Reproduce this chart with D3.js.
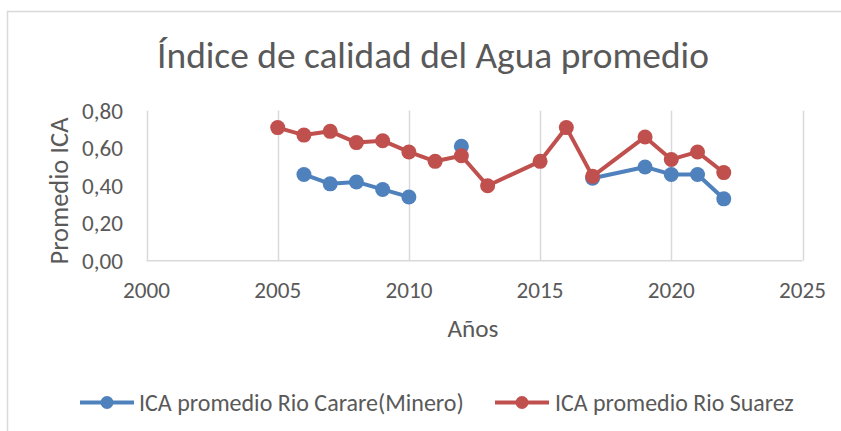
<!DOCTYPE html>
<html>
<head>
<meta charset="utf-8">
<script src="https://cdn.jsdelivr.net/npm/d3@7"></script>
<style>
  html, body { margin: 0; padding: 0; background: #fff; }
  svg { display: block; font-family: Carlito, Calibri, "Open Sans", sans-serif; }
</style>
</head>
<body>
<svg id="chart" width="841" height="431"></svg>
<script>
// ---- data ----
const years = [2005, 2006, 2007, 2008, 2009, 2010, 2011, 2012, 2013, 2015, 2016, 2017, 2019, 2020, 2021, 2022];
const carare = [null, 0.46, 0.41, 0.42, 0.38, 0.34, null, 0.61, null, null, null, 0.44, 0.50, 0.46, 0.46, 0.33];
const suarez = [0.71, 0.67, 0.69, 0.63, 0.64, 0.58, 0.53, 0.56, 0.40, 0.53, 0.71, 0.45, 0.66, 0.54, 0.58, 0.47];
const xTicks = [2000, 2005, 2010, 2015, 2020, 2025];
const yTicks = [0, 0.2, 0.4, 0.6, 0.8];
const seriesNames = ["ICA promedio Rio Carare(Minero)", "ICA promedio Rio Suarez"];
const titleText = "Índice de calidad del Agua promedio";
const xTitle = "Años";
const yTitle = "Promedio ICA";

// ---- setup ----
const svg = d3.select("#chart");
const colors = ["#4f81bd", "#c0504d"];
const grid = "#d9d9d9";
const textColor = "#595959";

const x = d3.scaleLinear().domain([2000, 2025]).range([146.5, 802.5]);
const y = d3.scaleLinear().domain([0, 0.8]).range([260.7, 110.7]);
const locale = d3.formatLocale({decimal: ",", thousands: ".", grouping: [3], currency: ["", ""]});
const fmt = locale.format(".2f");

function fit(sel, target) {
  const node = sel.node();
  const fs = parseFloat(sel.attr("font-size"));
  const w = node.getComputedTextLength();
  if (w > 0) sel.attr("font-size", fs * target / w);
}

// chart border (cropped)
svg.append("rect").attr("x", 7.5).attr("y", 11.5).attr("width", 1000).attr("height", 1000)
  .attr("fill", "none").attr("stroke", grid).attr("stroke-width", 1.5);

// vertical gridlines
const gx = svg.append("g");
gx.selectAll("line").data(xTicks).join("line")
  .attr("x1", d => Math.round(x(d)) + 0.5).attr("x2", d => Math.round(x(d)) + 0.5)
  .attr("y1", y(0.8)).attr("y2", y(0))
  .attr("stroke", grid).attr("stroke-width", 1.5);
// baseline
svg.append("line").attr("x1", x(2000)).attr("x2", x(2025))
  .attr("y1", y(0)).attr("y2", y(0)).attr("stroke", grid).attr("stroke-width", 1.5);

// x tick labels
svg.append("g").selectAll("text").data(xTicks).join("text")
  .attr("x", d => x(d)).attr("y", 298)
  .attr("text-anchor", "middle").attr("fill", textColor).attr("font-size", 20)
  .text(d => d)
  .each(function() { fit(d3.select(this), 47); });

// y tick labels
svg.append("g").selectAll("text").data(yTicks).join("text")
  .attr("x", 123).attr("y", d => y(d)).attr("dy", "0.35em")
  .attr("text-anchor", "end").attr("fill", textColor).attr("font-size", 20)
  .text(d => fmt(d))
  .each(function() { fit(d3.select(this), 41); });

// title
const t = svg.append("text").attr("x", 433).attr("y", 68)
  .attr("text-anchor", "middle").attr("fill", textColor).attr("font-size", 30)
  .text(titleText);
fit(t, 552);

// axis titles
const xt = svg.append("text").attr("x", 473).attr("y", 337)
  .attr("text-anchor", "middle").attr("fill", textColor).attr("font-size", 20).text(xTitle);
fit(xt, 51);
const yt = svg.append("text").attr("transform", "translate(68,191) rotate(-90)")
  .attr("text-anchor", "middle").attr("fill", textColor).attr("font-size", 20).text(yTitle);
fit(yt, 147);

// series
const line = d3.line()
  .defined(d => d.v !== null)
  .x(d => x(d.year)).y(d => y(d.v));

[carare, suarez].forEach((vals, i) => {
  const pts = years.map((yr, j) => ({year: yr, v: vals[j]}));
  svg.append("path").datum(pts)
    .attr("d", line).attr("fill", "none")
    .attr("stroke", colors[i]).attr("stroke-width", 4)
    .attr("stroke-linejoin", "round");
  svg.append("g").selectAll("circle").data(pts.filter(d => d.v !== null)).join("circle")
    .attr("cx", d => x(d.year)).attr("cy", d => y(d.v)).attr("r", 7.5)
    .attr("fill", colors[i]);
});

// legend
const legendItems = [
  {name: seriesNames[0], x0: 80, x1: 134, tx: 139, tw: 325},
  {name: seriesNames[1], x0: 495, x1: 549, tx: 555, tw: 239}
];
const ly = 402.5;
legendItems.forEach((it, i) => {
  svg.append("line").attr("x1", it.x0).attr("x2", it.x1).attr("y1", ly).attr("y2", ly)
    .attr("stroke", colors[i]).attr("stroke-width", 4);
  svg.append("circle").attr("cx", (it.x0 + it.x1) / 2).attr("cy", ly).attr("r", 6.5)
    .attr("fill", colors[i]);
  const tx = svg.append("text").attr("x", it.tx).attr("y", ly).attr("dy", "0.35em")
    .attr("fill", textColor).attr("font-size", 20).text(it.name);
  fit(tx, it.tw);
});
</script>
</body>
</html>
